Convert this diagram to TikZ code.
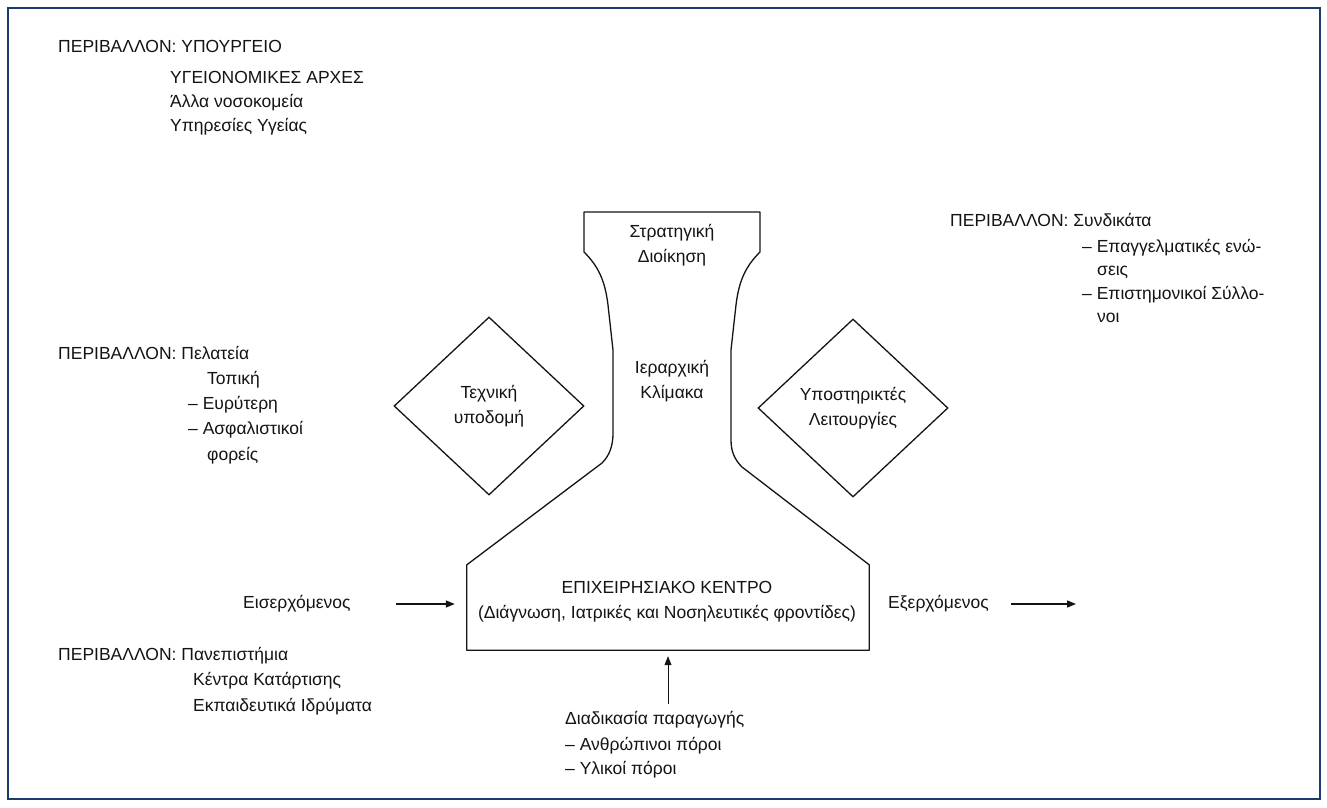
\documentclass[tikz,border=0pt]{standalone}
\usepackage{fontspec}
\setmainfont{Liberation Sans}
\usetikzlibrary{arrows.meta,shapes.geometric}
\definecolor{frameblue}{RGB}{28,58,108}
\definecolor{ink}{RGB}{20,20,20}
\begin{document}
\begin{tikzpicture}[x=1pt,y=-1pt,
  txt/.style={anchor=west,inner sep=0pt,text height=12pt,text depth=4pt,font=\fontsize{17.5}{25}\selectfont,text=ink},
  ctxt/.style={inner sep=0pt,align=center,font=\fontsize{17.5}{25}\selectfont,text=ink},
  outline/.style={draw=ink,line width=1.3pt,line join=round},
  arr/.style={draw=ink,line width=1.4pt,-{Triangle[length=9pt,width=7pt]}},
  thinarr/.style={draw=ink,line width=0.7pt,-{Triangle[length=9pt,width=7pt]}},
  dia/.style={diamond,draw=ink,line width=1.3pt,minimum width=190pt,minimum height=178pt,inner sep=0pt,align=center,font=\fontsize{17.5}{25}\selectfont,text=ink}
]
\useasboundingbox (0,0) rectangle (1327,807);
\fill[white] (0,0) rectangle (1327,807);
\draw[frameblue,line width=2.5pt] (8,8) rectangle (1320,799);

% top-left environment
\node[txt] (t1) at (58,48) {ΠΕΡΙΒΑΛΛΟΝ: ΥΠΟΥΡΓΕΙΟ};
\node[txt] (t2) at (170,79) {ΥΓΕΙΟΝΟΜΙΚΕΣ ΑΡΧΕΣ};
\node[txt] (t3) at (170,103) {Άλλα νοσοκομεία};
\node[txt] (t4) at (170,127) {Υπηρεσίες Υγείας};

% top-right environment
\node[txt] (r1) at (950,222) {ΠΕΡΙΒΑΛΛΟΝ: Συνδικάτα};
\node[txt] (r2) at (1082,248) {– Επαγγελματικές ενώ-};
\node[txt] (r3) at (1097,271) {σεις};
\node[txt] (r4) at (1082,295) {– Επιστημονικοί Σύλλο-};
\node[txt] (r5) at (1097,318) {νοι};

% left-middle environment
\node[txt] (m1) at (58,355) {ΠΕΡΙΒΑΛΛΟΝ: Πελατεία};
\node[txt] (m2) at (207,380) {Τοπική};
\node[txt] (m3) at (188,405) {– Ευρύτερη};
\node[txt] (m4) at (188,430) {– Ασφαλιστικοί};
\node[txt] (m5) at (207,456) {φορείς};

% bottom-left environment
\node[txt] (b1) at (58,656) {ΠΕΡΙΒΑΛΛΟΝ: Πανεπιστήμια};
\node[txt] (b2) at (193,681) {Κέντρα Κατάρτισης};
\node[txt] (b3) at (193,707) {Εκπαιδευτικά Ιδρύματα};

% production process
\node[txt] (p1) at (565,720) {Διαδικασία παραγωγής};
\node[txt] (p2) at (565,746) {– Ανθρώπινοι πόροι};
\node[txt] (p3) at (565,770) {– Υλικοί πόροι};

% central box (operational centre)
\node[minimum width=402pt,minimum height=85pt,inner sep=0pt] (box) at (668,607.5) {};
\node[ctxt] (boxtext) at (667,602) {ΕΠΙΧΕΙΡΗΣΙΑΚΟ ΚΕΝΤΡΟ\\(Διάγνωση, Ιατρικές και Νοσηλευτικές φροντίδες)};

% vase outline
\draw[outline] (box.north west) -- (box.south west) -- (box.south east) -- (box.north east)
  -- (742,467) .. controls (735,460) and (731,452) .. (731,440) -- (731,350) -- (736,305)
  .. controls (739,280) and (746,266) .. (760,252) -- (760,212) -- (584,212) -- (584,252)
  .. controls (598,266) and (605,280) .. (608,305) -- (613,350) -- (613,433)
  .. controls (613,445) and (610,455) .. (602,463) -- cycle;

\node[ctxt] (strat) at (672,245) {Στρατηγική\\Διοίκηση};
\node[ctxt] (hier) at (672,381) {Ιεραρχική\\Κλίμακα};

% diamonds
\node[dia] (tech) at (489,406) {Τεχνική\\υποδομή};
\node[dia] (supp) at (853,408) {Υποστηρικτές\\Λειτουργίες};

% inputs / outputs
\node[txt] (in) at (243,604) {Εισερχόμενος};
\node[txt] (out) at (888,604) {Εξερχόμενος};
\coordinate (outend) at (1076,604);

\draw[arr,shorten <=45pt,shorten >=12pt] (in.east) -- (in.east -| box.west);
\draw[arr,shorten <=22pt] (out.east) -- (outend);
\draw[thinarr,shorten <=8pt,shorten >=6pt] (p1.north -| box.south) -- (box.south);
\end{tikzpicture}
\end{document}
